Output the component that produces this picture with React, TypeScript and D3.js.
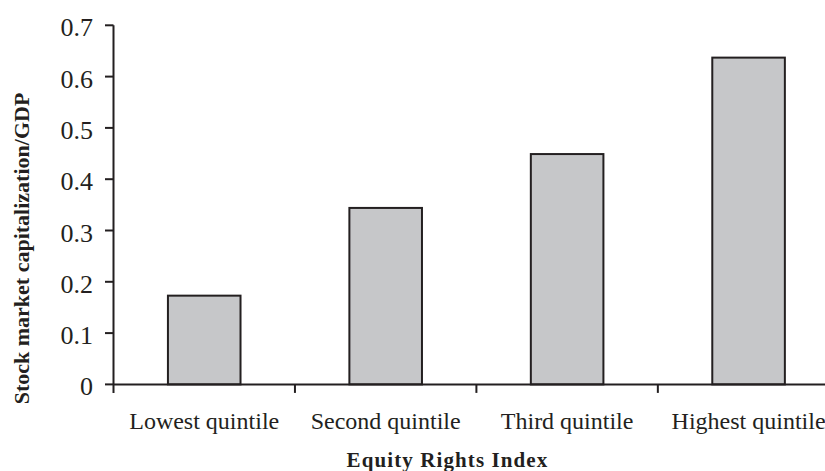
import * as d3 from "d3";

const WIDTH = 825;
const HEIGHT = 471;

// Values
const categories = ["Lowest quintile", "Second quintile", "Third quintile", "Highest quintile"];
const values = [0.173, 0.344, 0.449, 0.637];
const yTicks = [0, 0.1, 0.2, 0.3, 0.4, 0.5, 0.6, 0.7];

const INK = "#231f20";
const BAR_FILL = "#c6c7c9";
const FONT = "'Liberation Serif', 'Times New Roman', serif";

const PLOT = { left: 113.5, right: 839.3, top: 25.3, bottom: 384.4 };

export default function App() {
  const y = d3.scaleLinear().domain([0, 0.7]).range([PLOT.bottom, PLOT.top]);

  // One band per category; bars take the middle 40% of each slot
  const x = d3
    .scaleBand<string>()
    .domain(categories)
    .range([PLOT.left, PLOT.right])
    .paddingInner(0.6)
    .paddingOuter(0.3);
  const step = x.step();
  const bw = x.bandwidth();

  // category boundaries for the x tick marks
  const boundaries = categories.map((c) => (x(c) ?? 0) - step * 0.3);

  return (
    <svg
      width={WIDTH}
      height={HEIGHT}
      viewBox={`0 0 ${WIDTH} ${HEIGHT}`}
      style={{ position: "absolute", left: 0, top: 0, background: "#fff" }}
      fontFamily={FONT}
    >
      <rect width={WIDTH} height={HEIGHT} fill="#fff" />

      {/* bars */}
      {categories.map((c, i) => {
        const bx = x(c) ?? 0;
        const by = y(values[i]);
        return (
          <rect
            key={c}
            x={bx}
            y={by}
            width={bw}
            height={PLOT.bottom - by}
            fill={BAR_FILL}
            stroke={INK}
            strokeWidth={2}
          />
        );
      })}

      {/* y axis */}
      <line x1={PLOT.left} x2={PLOT.left} y1={y(0.7)} y2={PLOT.bottom + 8.5} stroke={INK} strokeWidth={2} />
      {yTicks.map((t) => (
        <g key={t} transform={`translate(0,${y(t)})`}>
          <line x1={PLOT.left - 8.5} x2={PLOT.left} stroke={INK} strokeWidth={2} />
          <text
            x={93}
            y={11}
            textAnchor="end"
            fontSize={26}
            fill={INK}
          >
            {t === 0 ? "0" : d3.format(".1f")(t)}
          </text>
        </g>
      ))}

      {/* x axis */}
      <line x1={PLOT.left} x2={WIDTH} y1={PLOT.bottom} y2={PLOT.bottom} stroke={INK} strokeWidth={2} />
      {boundaries.slice(1).map((bx, i) => (
        <line key={i} x1={bx} x2={bx} y1={PLOT.bottom} y2={PLOT.bottom + 8.5} stroke={INK} strokeWidth={2} />
      ))}
      {categories.map((c) => (
        <text
          key={c}
          x={(x(c) ?? 0) + bw / 2}
          y={428.5}
          textAnchor="middle"
          fontSize={24}
          fill={INK}
        >
          {c}
        </text>
      ))}

      {/* axis titles */}
      <text
        x={447.5}
        y={467}
        textAnchor="middle"
        fontSize={21}
        fontWeight="bold"
        letterSpacing={1.1}
        fill={INK}
      >
        Equity Rights Index
      </text>
      <text
        transform="translate(28.5,248.5) rotate(-90)"
        textAnchor="middle"
        fontSize={22}
        fontWeight="bold"
        fill={INK}
      >
        Stock market capitalization/GDP
      </text>
    </svg>
  );
}
